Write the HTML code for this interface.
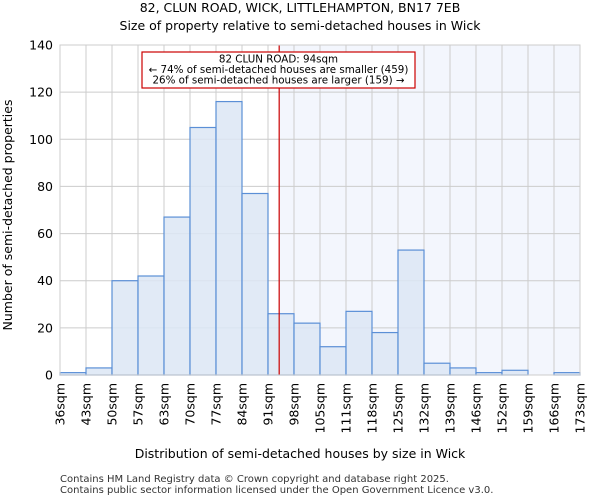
<!DOCTYPE html>
<html><head><meta charset="utf-8"><style>
body{margin:0;background:#fff;font-family:"DejaVu Sans","Liberation Sans",sans-serif;}
svg text{font-family:"DejaVu Sans","Liberation Sans",sans-serif;}
</style></head><body>
<svg id="c" width="600" height="500">
<text x="300" y="12" text-anchor="middle" font-size="12.5">82, CLUN ROAD, WICK, LITTLEHAMPTON, BN17 7EB</text>
<text x="300" y="30" text-anchor="middle" font-size="12.5">Size of property relative to semi-detached houses in Wick</text>
<g id="g"></g>
<text x="300" y="458" text-anchor="middle" font-size="12.5">Distribution of semi-detached houses by size in Wick</text>
<text transform="translate(12,215) rotate(-90)" text-anchor="middle" font-size="12.5">Number of semi-detached properties</text>
<text x="60" y="482" font-size="10" fill="#333">Contains HM Land Registry data © Crown copyright and database right 2025.</text>
<text x="60" y="493" font-size="10" fill="#333">Contains public sector information licensed under the Open Government Licence v3.0.</text>
</svg>
<script>
const binLabels=["36sqm","43sqm","50sqm","57sqm","63sqm","70sqm","77sqm","84sqm","91sqm","98sqm","105sqm","111sqm","118sqm","125sqm","132sqm","139sqm","146sqm","152sqm","159sqm","166sqm","173sqm"];
const counts=[1,3,40,42,67,105,116,77,26,22,12,27,18,53,5,3,1,2,0,1];
const yTicks=[0,20,40,60,80,100,120,140];
const propertyBinPos=8.43;
const NS="http://www.w3.org/2000/svg",g=document.getElementById('g');
const X0=60,X1=580,Y0=375,Y1=45,YMAX=140;
const bw=(X1-X0)/counts.length;
const xs=i=>X0+i*bw, ys=v=>Y0-(v/YMAX)*(Y0-Y1);
function mk(t,a){const e=document.createElementNS(NS,t);for(const k in a)e.setAttribute(k,a[k]);g.appendChild(e);return e;}
const lx=xs(propertyBinPos);
let e=mk('rect',{x:lx,y:Y1,width:X1-lx,height:Y0-Y1,fill:'#f3f6fd'});


for(const t of yTicks){e=mk('line',{x1:X0,x2:X1,y1:ys(t),y2:ys(t),stroke:'#cccccc'});


e=mk('text',{x:X0-7,y:ys(t)+4.5,'text-anchor':'end','font-size':12.5});e.textContent=t;

}
for(let i=0;i<binLabels.length;i++){e=mk('line',{x1:xs(i),x2:xs(i),y1:Y1,y2:Y0,stroke:'#cccccc'});


e=mk('text',{transform:`translate(${xs(i)+4.5},${Y0+8}) rotate(-90)`,'text-anchor':'end','font-size':12.5});e.textContent=binLabels[i];

}
counts.forEach((v,i)=>{if(v<=0)return;e=mk('rect',{x:xs(i),y:ys(v),width:bw,height:Y0-ys(v),fill:'#dce6f5','fill-opacity':0.85,stroke:'#5b8fd6','stroke-width':1.2});

});
e=mk('line',{x1:lx,x2:lx,y1:Y1,y2:Y0,stroke:'#cc0000','stroke-width':1.2});


e=mk('rect',{x:X0,y:Y1,width:X1-X0,height:Y0-Y1,fill:'none',stroke:'#cccccc'});


e=mk('rect',{x:142,y:52,width:273,height:36,fill:'#fff',stroke:'#cc0000','stroke-width':1.2});


["82 CLUN ROAD: 94sqm","← 74% of semi-detached houses are smaller (459)","26% of semi-detached houses are larger (159) →"].forEach((s,k)=>{
e=mk('text',{x:278.5,y:62.5+k*10.5,'text-anchor':'middle','font-size':10.3});e.textContent=s;

});
</script>
</body></html>
